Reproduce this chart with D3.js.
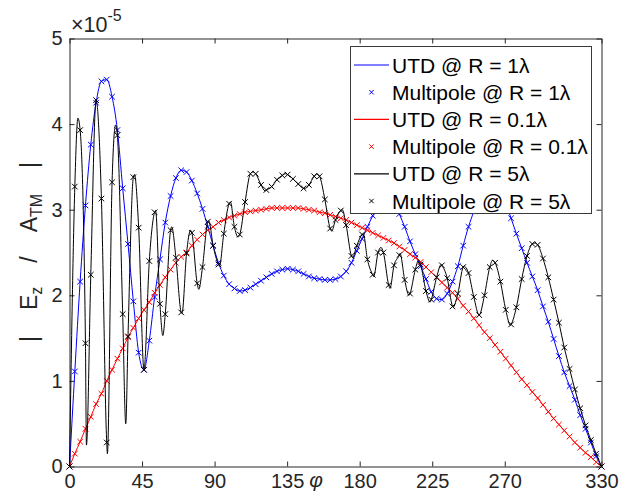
<!DOCTYPE html>
<html>
<head>
<meta charset="utf-8">
<script src="https://cdn.jsdelivr.net/npm/d3@7"></script>
<style>
  body { margin: 0; background: #fff; }
  svg { display: block; }
</style>
</head>
<body>
<script>
// sampling angles of the multipole solution (deg), 101 points from 0 to 330
var phi = d3.range(101).map(function (i) { return +(i * 3.3).toFixed(1); });

var xTicks = [0, 45, 90, 135, 180, 225, 270, 330];
var yTicks = [0, 1, 2, 3, 4, 5];

// |Ez/ATM| in units of 1e-5, read at each sample angle
var mp1 = [0, 1.11, 2.16, 3.05, 3.76, 4.25, 4.50, 4.52, 4.32, 3.93,
    3.25, 2.60, 1.93, 1.33, 1.13, 1.47, 1.98, 2.42, 2.85, 3.16,
    3.37, 3.46, 3.44, 3.34, 3.19, 3.01, 2.80, 2.58, 2.38, 2.23,
    2.13, 2.08, 2.05, 2.06, 2.09, 2.13, 2.17, 2.21, 2.25, 2.28,
    2.30, 2.31, 2.30, 2.28, 2.25, 2.22, 2.20, 2.19, 2.18, 2.18,
    2.19, 2.22, 2.28, 2.38, 2.52, 2.66, 2.80, 2.93, 3.05, 3.15,
    3.19, 3.12, 2.95, 2.80, 2.63, 2.48, 2.34, 2.19, 2.04, 1.96,
    1.95, 2.02, 2.16, 2.34, 2.58, 2.80, 2.98, 3.15, 3.28, 3.34,
    3.33, 3.24, 3.08, 2.90, 2.72, 2.55, 2.38, 2.22, 2.06, 1.87,
    1.69, 1.49, 1.29, 1.10, 0.94, 0.78, 0.60, 0.44, 0.28, 0.12, 0];

var mp01 = [0, 0.15, 0.29, 0.44, 0.58, 0.73, 0.85, 1.00, 1.13, 1.26,
    1.38, 1.51, 1.62, 1.73, 1.83, 1.92, 2.03, 2.12, 2.21, 2.30,
    2.38, 2.45, 2.50, 2.58, 2.65, 2.71, 2.76, 2.80, 2.85, 2.88,
    2.91, 2.93, 2.95, 2.97, 2.98, 2.99, 3.00, 3.01, 3.02, 3.02,
    3.02, 3.02, 3.02, 3.02, 3.01, 3.00, 2.99, 2.97, 2.96, 2.94,
    2.92, 2.90, 2.88, 2.85, 2.82, 2.79, 2.76, 2.73, 2.70, 2.67,
    2.64, 2.61, 2.57, 2.53, 2.48, 2.44, 2.39, 2.33, 2.27, 2.21,
    2.15, 2.09, 2.03, 1.96, 1.88, 1.81, 1.73, 1.65, 1.57, 1.50,
    1.42, 1.34, 1.26, 1.18, 1.10, 1.02, 0.95, 0.87, 0.80, 0.72,
    0.64, 0.56, 0.49, 0.42, 0.35, 0.28, 0.22, 0.16, 0.11, 0.05, 0];

var mp5 = [0, 3.27, 3.93, 1.44, 2.24, 4.28, 3.13, 0.28, 3.32, 3.87,
    1.78, 1.52, 3.38, 2.79, 1.13, 2.40, 2.97, 1.90, 1.78, 2.76,
    2.44, 1.80, 2.49, 2.73, 2.14, 2.33, 2.86, 2.58, 2.36, 2.72,
    3.07, 2.80, 2.71, 3.09, 3.42, 3.42, 3.29, 3.23, 3.27, 3.35,
    3.40, 3.41, 3.36, 3.30, 3.25, 3.29, 3.39, 3.39, 3.12, 2.78,
    2.88, 2.99, 2.82, 2.46, 2.58, 2.71, 2.42, 2.24, 2.50, 2.50,
    2.12, 2.35, 2.47, 2.18, 2.02, 2.30, 2.36, 2.05, 1.95, 2.21,
    2.35, 2.20, 1.87, 2.02, 2.33, 2.26, 1.98, 1.77, 2.00, 2.33,
    2.38, 2.16, 1.83, 1.66, 1.86, 2.19, 2.46, 2.60, 2.59, 2.43,
    2.21, 1.95, 1.68, 1.39, 1.14, 0.90, 0.68, 0.48, 0.31, 0.15, 0];

// peaks and dips of the R = 5 lambda UTD curve that fall between samples [phi, value]
var utd5Peaks = [[5.2, 4.07], [10.5, 0.25], [23.5, 0.15], [28.6, 3.99], [34.9, 0.50],
    [40.3, 3.41], [53.4, 2.99], [57.9, 1.53], [63.4, 2.80], [69.8, 1.79],
    [75.1, 2.76], [80.2, 2.07], [86.4, 2.87], [93.0, 2.34], [99.8, 3.09],
    [104.5, 2.68], [113.8, 3.44], [121.3, 3.22], [134.0, 3.42], [146.4, 3.25],
    [153.3, 3.42], [162.6, 2.75], [169.2, 3.00], [175.6, 2.44], [182.2, 2.72],
    [188.7, 2.22], [193.2, 2.56], [198.8, 2.08], [205.0, 2.49], [210.6, 2.00],
    [216.5, 2.41], [223.7, 1.92], [230.6, 2.36], [237.9, 1.86], [244.6, 2.34],
    [262.4, 2.41], [273.5, 1.65], [288.6, 2.61]];

var legendLabels = ["UTD @ R = 1\u03bb", "Multipole @ R = 1\u03bb",
    "UTD @ R = 0.1\u03bb", "Multipole @ R = 0.1\u03bb",
    "UTD @ R = 5\u03bb", "Multipole @ R = 5\u03bb"];

var width = 631, height = 500;
var axisColor = "#262626";
var font = "'Liberation Sans', Arial, Helvetica, sans-serif";

var svg = d3.select("body").append("svg")
    .attr("width", width)
    .attr("height", height)
    .style("font-family", font);

var x = d3.scaleLinear().domain([0, 330]).range([69.5, 601.5]);
var y = d3.scaleLinear().domain([0, 5]).range([466.5, 38.5]);

function pairs(vals) {
    return vals.map(function (v, i) { return [phi[i], v]; });
}

var series = [
    { color: "#0000ff", line: pairs(mp1), pts: pairs(mp1) },
    { color: "#ff0000", line: pairs(mp01), pts: pairs(mp01) },
    { color: "#000000",
      line: pairs(mp5).concat(utd5Peaks).sort(function (a, b) { return a[0] - b[0]; }),
      pts: pairs(mp5) }
];

var line = d3.line()
    .x(function (d) { return x(d[0]); })
    .y(function (d) { return y(d[1]); })
    .curve(d3.curveMonotoneX);

var cross = "M-2.8,-2.8L2.8,2.8M-2.8,2.8L2.8,-2.8";

// axes (ticks point inward, box on)
function styleAxis(g) {
    g.attr("font-family", font).attr("font-size", 20);
    g.select(".domain").attr("stroke", axisColor);
    g.selectAll(".tick line").attr("stroke", axisColor);
    g.selectAll(".tick text").attr("fill", axisColor);
}

svg.append("g")
    .attr("transform", "translate(0," + y(0) + ")")
    .call(d3.axisBottom(x).tickValues(xTicks).tickFormat(d3.format("d"))
        .tickSizeInner(-5).tickSizeOuter(0).tickPadding(7))
    .call(styleAxis);

svg.append("g")
    .attr("transform", "translate(0," + y(5) + ")")
    .call(d3.axisTop(x).tickValues(xTicks).tickSizeInner(-5).tickSizeOuter(0).tickFormat(""))
    .call(styleAxis);

svg.append("g")
    .attr("transform", "translate(" + x(0) + ",0)")
    .call(d3.axisLeft(y).tickValues(yTicks).tickFormat(d3.format("d"))
        .tickSizeInner(-5).tickSizeOuter(0).tickPadding(7))
    .call(styleAxis);

svg.append("g")
    .attr("transform", "translate(" + x(330) + ",0)")
    .call(d3.axisRight(y).tickValues(yTicks).tickSizeInner(-5).tickSizeOuter(0).tickFormat(""))
    .call(styleAxis);

// curves and markers
series.forEach(function (s) {
    svg.append("path")
        .datum(s.line)
        .attr("d", line)
        .attr("fill", "none")
        .attr("stroke", s.color)
        .attr("stroke-width", 1);

    svg.append("g").selectAll("path")
        .data(s.pts)
        .enter().append("path")
        .attr("transform", function (d) { return "translate(" + x(d[0]) + "," + y(d[1]) + ")"; })
        .attr("d", cross)
        .attr("fill", "none")
        .attr("stroke", s.color)
        .attr("stroke-width", 1);
});

// exponent
var expo = svg.append("text")
    .attr("x", 71)
    .attr("y", 32)
    .attr("fill", axisColor)
    .attr("font-size", 21.5)
    .text("\u00d710");
expo.append("tspan")
    .attr("dy", -11)
    .attr("font-size", 16)
    .text("-5");

// x label
svg.append("text")
    .attr("x", 316)
    .attr("y", 487)
    .attr("text-anchor", "middle")
    .attr("font-style", "italic")
    .attr("font-size", 21)
    .attr("fill", axisColor)
    .text("\u03c6");

// y label
var yl = svg.append("text")
    .attr("transform", "translate(37,252) rotate(-90)")
    .attr("text-anchor", "middle")
    .attr("font-size", 23)
    .attr("fill", axisColor);
yl.append("tspan").text("|");
yl.append("tspan").attr("dx", 26).text("E");
yl.append("tspan").attr("dy", 5).attr("font-size", 16).text("z");
yl.append("tspan").attr("dx", 24).attr("dy", -5).text("/");
yl.append("tspan").attr("dx", 24).text("A");
yl.append("tspan").attr("dy", 5).attr("font-size", 16).text("TM");
yl.append("tspan").attr("dx", 26).attr("dy", -5).text("|");

// legend
var legend = svg.append("g");
legend.append("rect")
    .attr("x", 350.5)
    .attr("y", 46.5)
    .attr("width", 241)
    .attr("height", 167)
    .attr("fill", "#fff")
    .attr("stroke", "#3a3a3a")
    .attr("stroke-width", 1);

var colors = ["#0000ff", "#0000ff", "#ff0000", "#ff0000", "#000000", "#000000"];
legendLabels.forEach(function (label, i) {
    var cy = 65 + i * 27.2;
    if (i % 2 === 0) {
        legend.append("line")
            .attr("x1", 354).attr("x2", 389)
            .attr("y1", cy).attr("y2", cy)
            .attr("stroke", colors[i])
            .attr("stroke-width", 1.2);
    } else {
        legend.append("path")
            .attr("transform", "translate(371.5," + cy + ")")
            .attr("d", "M-2.2,-2.2L2.2,2.2M-2.2,2.2L2.2,-2.2")
            .attr("fill", "none")
            .attr("stroke", colors[i]);
    }
    legend.append("text")
        .attr("x", 392)
        .attr("y", cy)
        .attr("dy", "0.36em")
        .attr("font-size", 21)
        .attr("fill", "#000")
        .text(label);
});
</script>
</body>
</html>
